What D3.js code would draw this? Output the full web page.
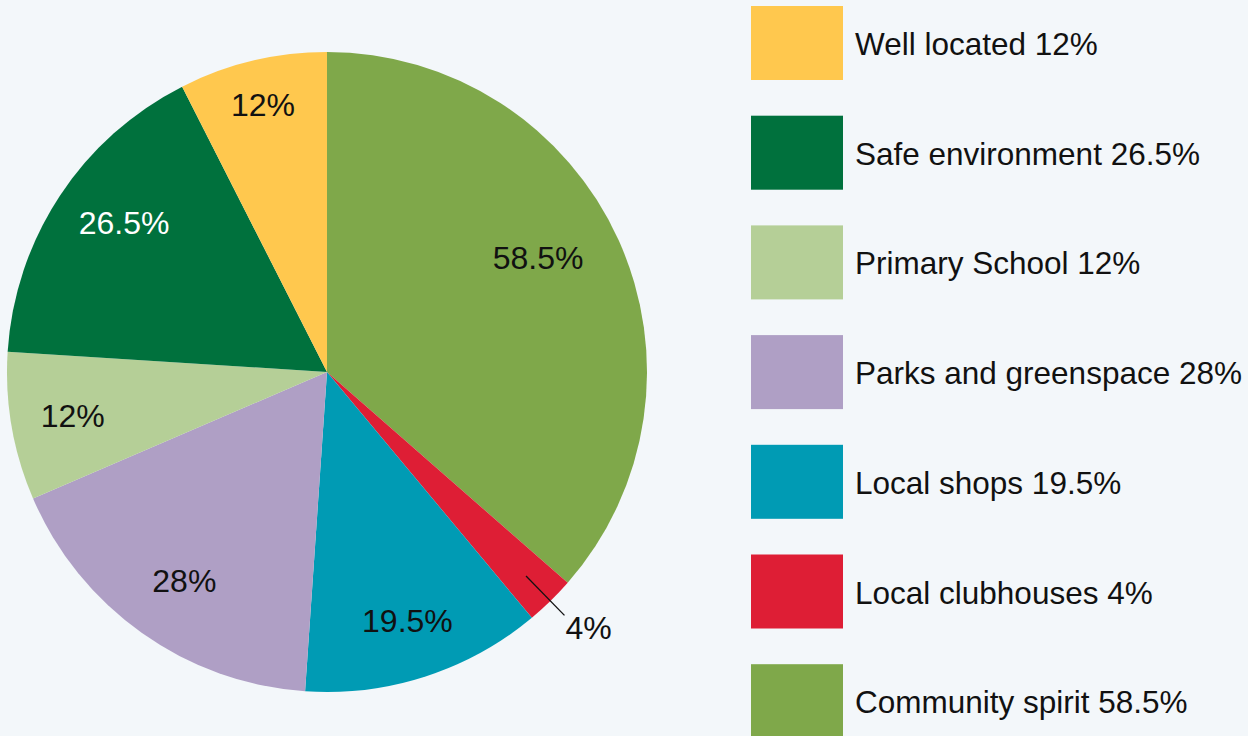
<!DOCTYPE html>
<html>
<head>
<meta charset="utf-8">
<script src="https://cdn.jsdelivr.net/npm/d3@7"></script>
<style>
  html, body { margin: 0; padding: 0; background: #f3f7fa; }
  svg { display: block; font-family: "Liberation Sans", Arial, sans-serif; }
</style>
</head>
<body>
<div id="chart"></div>
<script>
// slice order clockwise from 12 o'clock
const categories = ['Community spirit', 'Local clubhouses', 'Local shops', 'Parks and greenspace',
  'Primary School', 'Safe environment', 'Well located'];
const values = [58.5, 4, 19.5, 28, 12, 26.5, 12];
const colors = ['#7fa84a', '#de1e35', '#009bb4', '#af9fc5', '#b5cf97', '#00713d', '#ffc84e'];
const labelColors = ['#111', '#111', '#111', '#111', '#111', '#fff', '#111'];
// legend runs in reverse of the slice order
const legendOrder = ['Well located', 'Safe environment', 'Primary School', 'Parks and greenspace',
  'Local shops', 'Local clubhouses', 'Community spirit'];

// label placement, tuned per slice (4% sits outside with a leader)
const labelRadius = [240, 0, 261, 253, 258, 252, 275];
const labelNudge = [-4, 0, 0, -1, 0, 3, 0]; // degrees

const W = 1248, H = 736;
const cx = 327, cy = 372, R = 320;

const svg = d3.select('#chart').append('svg')
  .attr('width', W).attr('height', H);

svg.append('rect').attr('width', W).attr('height', H).attr('fill', '#f3f7fa');

const pie = d3.pie().sort(null).value(d => d.value);
const data = categories.map((c, i) => ({
  name: c, value: values[i], color: colors[i], lc: labelColors[i], lr: labelRadius[i], nudge: labelNudge[i]
}));
const arcs = pie(data);

const g = svg.append('g').attr('transform', `translate(${cx},${cy})`);
const arc = d3.arc().innerRadius(0).outerRadius(R);

g.selectAll('path.slice').data(arcs).enter().append('path')
  .attr('class', 'slice')
  .attr('d', arc)
  .attr('fill', d => d.data.color);

const fmt = v => `${v}%`;

arcs.forEach(d => {
  const mid = (d.startAngle + d.endAngle) / 2 + d.data.nudge * Math.PI / 180;
  if (d.data.lr > 0) {
    const [x, y] = d3.pointRadial(mid, d.data.lr);
    g.append('text')
      .attr('x', x).attr('y', y)
      .attr('text-anchor', 'middle').attr('dy', '0.35em')
      .attr('font-size', 32).attr('fill', d.data.lc)
      .text(fmt(d.data.value));
  } else {
    // small slice: leader line to an outside label
    const p1 = d3.pointRadial(mid, 285);
    const p2 = d3.pointRadial(mid, 340);
    g.append('line')
      .attr('x1', p1[0]).attr('y1', p1[1]).attr('x2', p2[0]).attr('y2', p2[1])
      .attr('stroke', '#111').attr('stroke-width', 1.3);
    g.append('text')
      .attr('x', p2[0] + 1).attr('y', p2[1] + 24)
      .attr('font-size', 32).attr('fill', '#111')
      .text(fmt(d.data.value));
  }
});

// legend
const ly = d3.scaleBand().domain(legendOrder).range([6, 6 + 109.7 * 7]).paddingInner(0);
const legend = svg.append('g');
legendOrder.forEach(name => {
  const i = categories.indexOf(name);
  const y0 = ly(name);
  legend.append('rect')
    .attr('x', 751).attr('y', y0).attr('width', 92).attr('height', 74)
    .attr('fill', colors[i]);
  legend.append('text')
    .attr('x', 855).attr('y', y0 + 49)
    .attr('font-size', 31.5).attr('fill', '#111')
    .text(`${name} ${fmt(values[i])}`);
});
</script>
</body>
</html>
